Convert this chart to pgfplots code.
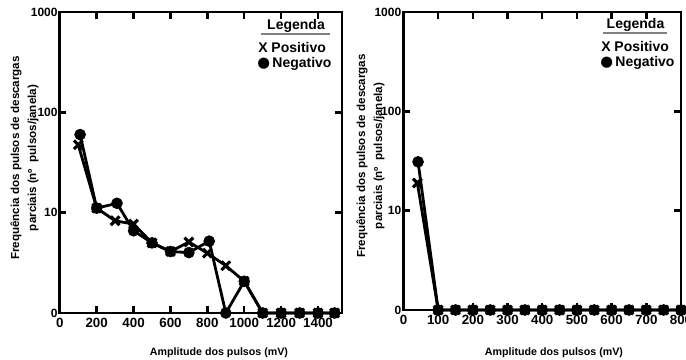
\documentclass[border=0pt]{standalone}
\usepackage{pgfplots}
\pgfplotsset{compat=1.18}
\usepackage{fontspec}
\setmainfont{Liberation Sans}
\newfontfamily\dejavu{DejaVu Sans}
\pgfplotsset{
  posit/.style={mark=x, mark size=4.6pt, mark options={line width=2.3pt}},
  negat/.style={mark=*, mark size=4.1pt, mark options={line width=0.5pt}},
}
\begin{document}
\begin{tikzpicture}
% ---------- left panel ----------
\begin{axis}[at={(44.85pt,35.25pt)}, anchor=south west,
  scale only axis,
  width=211.65pt, height=225.75pt,
  /pgf/number format/assume math mode=true,
  /pgf/number format/1000 sep={},
  scaled x ticks=false,
  ymode=log, ymin=1, ymax=1000,
  ytick={1,10,100,1000}, yticklabels={0,10,100,1000},
  yminorticks=false,
  tick align=inside,
  major tick length=5pt,
  every tick/.style={black, line width=1.8pt},
  axis line style={line width=2.2pt},
  clip=false,
  x tick label style={font=\fontsize{10}{12}\selectfont\bfseries, inner sep=1pt, yshift=-2.5pt},
  y tick label style={font=\fontsize{9}{11}\selectfont\bfseries, inner sep=1pt, xshift=-0.5pt},
  xmin=0, xmax=1530,
  xtick={0,200,400,600,800,1000,1200,1400}]
\addplot[black, line width=2.1pt, posit] coordinates {(100,47.5) (200,11.1) (300,8.3) (400,7.7) (500,5.0) (600,4.1) (700,5.1) (800,3.95) (900,2.96) (1000,2.07) (1100,1) (1200,1) (1300,1) (1400,1) (1490,1)};
\addplot[black, line width=2.1pt, negat] coordinates {(110,60) (200,11.1) (310,12.4) (400,6.6) (500,5.0) (600,4.1) (700,4.0) (810,5.2) (900,1) (1000,2.07) (1100,1) (1200,1) (1300,1) (1400,1) (1490,1)};
\end{axis}
% ---------- right panel ----------
\begin{axis}[at={(302.625pt,37.5pt)}, anchor=south west,
  scale only axis,
  width=208.125pt, height=223.5pt,
  /pgf/number format/assume math mode=true,
  /pgf/number format/1000 sep={},
  scaled x ticks=false,
  ymode=log, ymin=1, ymax=1000,
  ytick={1,10,100,1000}, yticklabels={0,10,100,1000},
  yminorticks=false,
  tick align=inside,
  major tick length=5pt,
  every tick/.style={black, line width=1.8pt},
  axis line style={line width=2.2pt},
  clip=false,
  x tick label style={font=\fontsize{10}{12}\selectfont\bfseries, inner sep=1pt, yshift=-2.5pt},
  y tick label style={font=\fontsize{9}{11}\selectfont\bfseries, inner sep=1pt, xshift=-0.5pt},
  xmin=0, xmax=800,
  xtick={0,100,200,300,400,500,600,700,800}]
\addplot[black, line width=2.1pt, posit] coordinates {(40,19) (100,1) (150,1) (200,1) (250,1) (300,1) (350,1) (400,1) (450,1) (500,1) (550,1) (600,1) (650,1) (700,1) (750,1) (800,1)};
\addplot[black, line width=2.1pt, negat] coordinates {(42,31) (100,1) (150,1) (200,1) (250,1) (300,1) (350,1) (400,1) (450,1) (500,1) (550,1) (600,1) (650,1) (700,1) (750,1) (800,1)};
\end{axis}
\begin{scope}[x=0.75pt,y=0.75pt]
% ---------- labels ----------
\node[rotate=90, align=center, font=\bfseries\fontsize{8.7}{12.75}\selectfont] at (24.5,202) {Frequência dos pulsos de descargas\\parciais (nº~ pulsos/janela)};
\node[rotate=90, align=center, font=\bfseries\fontsize{8.7}{12.75}\selectfont] at (370.5,204) {Frequência dos pulsos de descargas\\parciais (nº~ pulsos/janela)};
\node[font=\bfseries\fontsize{8}{9}\selectfont] at (219,7) {Amplitude dos pulsos (mV)};
\node[font=\bfseries\fontsize{8}{9}\selectfont] at (554,7) {Amplitude dos pulsos (mV)};
% ---------- legends ----------
\node[font=\bfseries\fontsize{10.5}{12}\selectfont] at (296,334) {Legenda};
\draw[gray, line width=1.2pt] (261,325.7) -- (330,325.7);
\node[anchor=west, inner sep=0pt, font=\bfseries\fontsize{10.5}{12}\selectfont] at (258,312.3) {X Positivo};
\node[anchor=west, inner sep=0pt, font=\bfseries\fontsize{10.5}{12}\selectfont] at (257,295.7) {{\dejavu\fontsize{11}{12}\selectfont ●}\,Negativo};
\node[font=\bfseries\fontsize{10.5}{12}\selectfont] at (635.5,335) {Legenda};
\draw[gray, line width=1.2pt] (603,326.7) -- (667,326.7);
\node[anchor=west, inner sep=0pt, font=\bfseries\fontsize{10.5}{12}\selectfont] at (601,313.3) {X Positivo};
\node[anchor=west, inner sep=0pt, font=\bfseries\fontsize{10.5}{12}\selectfont] at (600,296.7) {{\dejavu\fontsize{11}{12}\selectfont ●}\,Negativo};
\end{scope}
\pgfresetboundingbox
\path[use as bounding box] (0pt,0pt) rectangle (514.5pt,270pt);
\end{tikzpicture}
\end{document}
